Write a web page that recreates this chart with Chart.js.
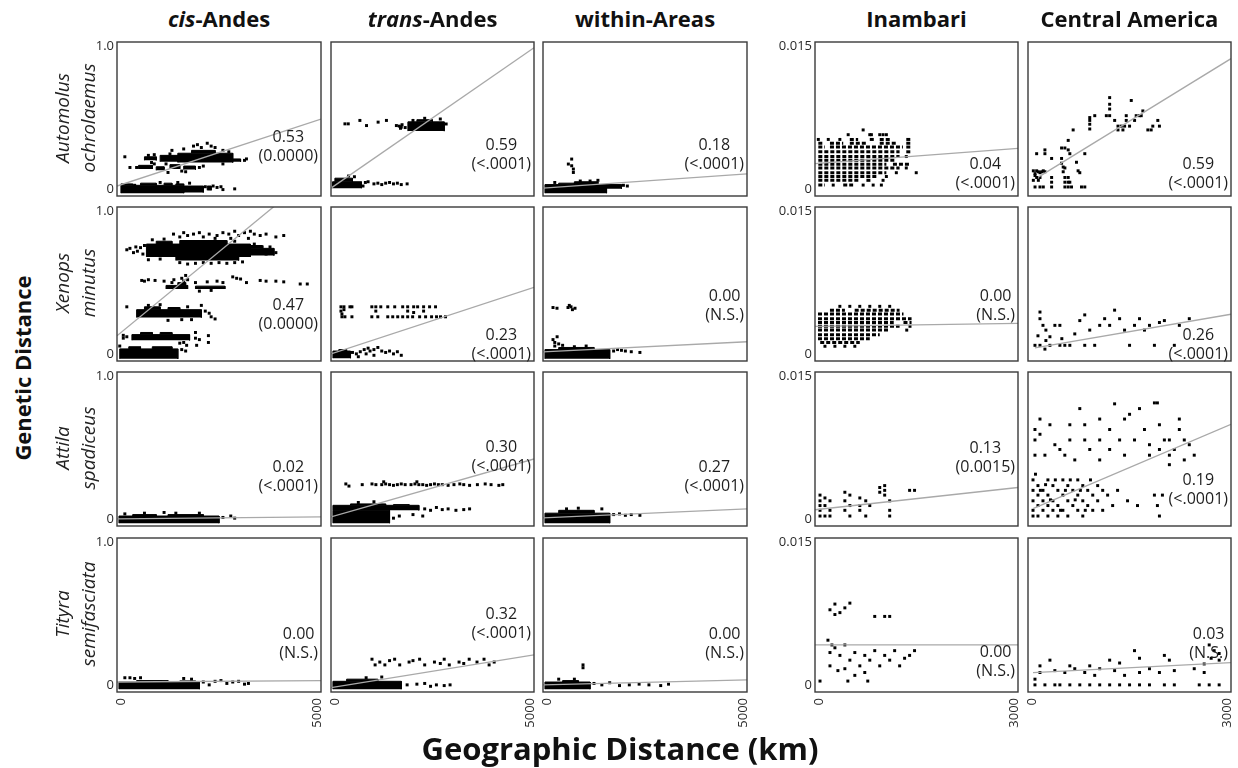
<!DOCTYPE html>
<html>
<head>
<meta charset="utf-8">
<title>Genetic vs geographic distance</title>
<script src="https://cdn.jsdelivr.net/npm/chart.js@4.4.0/dist/chart.umd.min.js"></script>
<style>
  html, body { margin: 0; padding: 0; background: #fff; }
  body { width: 1238px; height: 768px; position: relative; overflow: hidden; font-family: "Open Sans", "Noto Sans", sans-serif; color: #111; }
  canvas.panel { position: absolute; }
  .colTitle { position: absolute; top: 18px; transform: translate(-50%, -50%); font-weight: 700; font-size: 22px; white-space: nowrap; }
  .rot { position: absolute; white-space: nowrap; transform: translate(-50%, -50%) rotate(-90deg); }
  .species { font-style: italic; font-size: 19px; color: #222; }
  .axisTitle { font-weight: 700; font-size: 22px; }
  .xTitle { position: absolute; left: 620px; top: 748px; transform: translate(-50%, -50%); font-weight: 700; font-size: 31px; white-space: nowrap; }
</style>
</head>
<body>
<script>
// ---------------- categories and labels ----------------
const regions = ['cis-Andes', 'trans-Andes', 'within-Areas', 'Inambari', 'Central America'];
const species = [['Automolus', 'ochrolaemus'], ['Xenops', 'minutus'], ['Attila', 'spadiceus'], ['Tityra', 'semifasciata']];
const r2Labels = [
  ['0.53', '0.59', '0.18', '0.04', '0.59'],
  ['0.47', '0.23', '0.00', '0.00', '0.26'],
  ['0.02', '0.30', '0.27', '0.13', '0.19'],
  ['0.00', '0.32', '0.00', '0.00', '0.03']
];
const pLabels = [
  ['(0.0000)', '(<.0001)', '(<.0001)', '(<.0001)', '(<.0001)'],
  ['(0.0000)', '(<.0001)', '(N.S.)', '(N.S.)', '(<.0001)'],
  ['(<.0001)', '(<.0001)', '(<.0001)', '(0.0015)', '(<.0001)'],
  ['(N.S.)', '(<.0001)', '(N.S.)', '(N.S.)', '(N.S.)']
];
const yTicksCoarse = [0, 1.0], yTickLabelsCoarse = ['0', '1.0'];
const yTicksFine = [0, 0.015], yTickLabelsFine = ['0', '0.015'];
const xTicksWide = [0, 5000], xTickLabelsWide = ['0', '5000'];
const xTicksNarrow = [0, 3000], xTickLabelsNarrow = ['0', '3000'];

// Dense clouds of overlapping pairs are given as blocks [x0, x1, y0, y1];
// isolated pairs as points [x, y]; dotted rows as [y, x0, x1];
// fitted lines as [x0, y0, x1, y1].

// ---------------- Automolus ochrolaemus ----------------
const cisAutoBlocks = [
  [0,1600,-0.03,0.025],[0,300,0.025,0.035],[500,900,0.025,0.04],[1100,1300,0.025,0.04],[1400,1600,0.025,0.035],
  [1600,2100,-0.025,0.02],[2200,2300,-0.01,0.02],
  [450,800,0.14,0.165],[900,1100,0.13,0.155],[1250,1500,0.14,0.17],[1600,1900,0.135,0.16],
  [1450,2850,0.185,0.25],[1000,1450,0.19,0.235],[1800,2400,0.25,0.27],[600,900,0.2,0.225],[2850,3050,0.19,0.21]
];
const cisAutoPts = [[2150,0.015],[2250,0.0],[2350,0.02],[2450,0.01],[2550,0.015],[2600,-0.005],[2900,0.0],[1750,0.04],[1450,0.045],
  [700,0.235],[780,0.185],[850,0.24],[1300,0.27],[1600,0.28],[1850,0.3],[2050,0.29],[2200,0.32],[2400,0.29],[2600,0.27],
  [2750,0.26],[3150,0.2],[3200,0.21],[100,0.225],[230,0.15],[2300,0.3],[1950,0.31],[400,0.15],[2000,0.15],[2100,0.16],
  [1200,0.115],[1650,0.12],[850,0.175],[1150,0.175],[1550,0.125],[350,0.025],[1000,0.045],[1250,0.245],[2600,0.175]];
const cisAutoFit = [-100, 0.02, 5100, 0.49];

const transAutoBlocks = [
  [1870,2800,0.405,0.47],[2100,2500,0.47,0.485],[-60,680,0.005,0.05],[0,450,0.05,0.075]
];
const transAutoPts = [[257,0.456],[342,0.456],[640,0.48],[810,0.444],[1107,0.468],[1320,0.48],[1575,0.444],[1650,0.44],[1700,0.433],
  [1720,0.45],[1680,0.425],[2000,0.48],[2300,0.495],[2700,0.49],[1800,0.43],[780,0.045],[850,0.05],[1000,0.035],[1100,0.04],[1200,0.03],
  [1300,0.04],[1400,0.045],[1500,0.035],[1600,0.04],[1700,0.03],[1850,0.035],[500,0.085],[350,0.09],[720,0.02],[2850,0.455]];
const transAutoFit = [-100, 0.005, 5100, 0.99];

const withinAutoBlocks = [
  [-50,1520,-0.03,0.03],[300,700,0.03,0.04],[700,1300,0.03,0.05],[1520,1900,0.0,0.03]
];
const withinAutoPts = [[1950,0.025],[2050,0.02],[1300,0.06],[1100,0.055],[850,0.055],[200,0.045],
  [631,0.209],[546,0.174],[631,0.162],[674,0.139],[674,0.115]];
const withinAutoFit = [-100, 0.005, 5100, 0.105];

const inamAutoRows = [
  [0.0052,475,603],[0.0052,782,858],[0.0052,935,1113],[0.0052,1343,1419],
  [0.0048,-9,68],[0.0048,170,374],[0.0048,475,730],[0.0048,935,1190],[0.0048,1343,1419],
  [0.0044,-9,93],[0.0044,170,1291],[0.0044,1343,1419],
  [0.0039,-9,1240],[0.0039,1343,1419],
  [0.0034,-9,1240],
  [0.0030,-9,1190],
  [0.0026,-9,1037],[0.0026,1138,1393],
  [0.0022,-9,1240],
  [0.0017,-9,1037],
  [0.0013,-9,884],
  [0.0009,-9,628],[0.0009,730,807],
  [0.0004,-9,93],[0.0004,374,526]
];
const inamAutoPts = [[680,0.0062],[450,0.0057],[782,0.0057],[807,0.0057],[935,0.0057],[986,0.0057],[1037,0.0057],[-9,0.0052],
  [144,0.0052],[322,0.0052],[1343,0.0034],[1343,0.0022],[1190,0.0017],[1496,0.0017],[1037,0.0013],[986,0.0009],[220,0.0004],
  [680,0.0004],[834,0.0004],[960,0.0004]];
const inamAutoFit = [-60, 0.00265, 3060, 0.00425];

const camAutoPts = [[1195,0.0096],[1527,0.0093],[1195,0.0089],[1195,0.0084],[1144,0.0077],[1195,0.0077],[966,0.0077],[889,0.0075],
  [889,0.0072],[889,0.0068],[889,0.0063],[634,0.0062],[558,0.0051],[1272,0.0072],[1323,0.0066],[1374,0.0066],[1425,0.0066],
  [1450,0.0077],[1450,0.0072],[1501,0.0066],[1399,0.0062],[1323,0.0062],[1603,0.0077],[1578,0.0072],[1654,0.0077],[1705,0.0082],
  [1680,0.0077],[1782,0.0062],[1833,0.0062],[1858,0.0066],[1935,0.0072],[1960,0.0066],[456,0.0043],[507,0.0043],[558,0.0041],
  [583,0.0037],[200,0.0041],[200,0.0037],[73,0.0037],[303,0.0032],[456,0.0032],[456,0.0027],[481,0.0023],[507,0.0022],[685,0.0028],
  [813,0.0037],[710,0.0019],[736,0.0017],[73,0.0019],[99,0.0018],[124,0.0017],[150,0.0018],[175,0.0019],[200,0.0018],[48,0.0014],
  [73,0.0012],[22,0.0009],[99,0.0009],[48,0.0002],[124,0.0002],[175,0.0002],[303,0.0012],[303,0.0007],[303,0.0002],[507,0.0012],
  [507,0.0007],[558,0.0012],[558,0.0007],[507,0.0002],[558,0.0002],[609,0.0002],[762,0.0002],[813,0.0002],[583,0.0007],[22,0.0019],
  [48,0.0016],[124,0.0012],[481,0.0018]];
const camAutoFit = [99, 0.00123, 3060, 0.0137];

// ---------------- Xenops minutus ----------------
const cisXenBlocks = [
  [650,3300,0.68,0.77],[900,1300,0.77,0.79],[1500,2700,0.77,0.795],[3300,3900,0.69,0.74],[3300,3600,0.74,0.76],[1400,3000,0.655,0.68],
  [1150,1700,0.455,0.48],[1900,2650,0.455,0.475],[1450,1650,0.48,0.5],
  [400,2050,0.255,0.31],[600,1000,0.31,0.33],[1200,1500,0.31,0.325],
  [280,1750,0.095,0.135],[500,800,0.135,0.15],[1000,1300,0.135,0.15],
  [-30,1450,-0.035,0.035],[200,500,0.035,0.05],[800,1300,0.035,0.05]
];
const cisXenPts = [[1340,0.84],[1500,0.82],[1600,0.85],[1700,0.83],[1850,0.84],[2000,0.85],[2100,0.82],[2250,0.84],[2450,0.83],
  [2600,0.85],[2750,0.84],[2900,0.86],[3000,0.83],[3150,0.85],[3300,0.86],[3400,0.84],[3550,0.83],[3700,0.84],[3950,0.82],[4150,0.83],
  [2800,0.81],[3250,0.81],[150,0.73],[230,0.74],[320,0.71],[380,0.75],[420,0.72],[500,0.745],[560,0.70],[600,0.76],[3600,0.75],
  [3800,0.75],[3700,0.7],[3950,0.71],[1500,0.64],[1700,0.63],[1900,0.635],[2100,0.64],[2300,0.635],[2500,0.64],[2700,0.635],
  [2900,0.64],[3100,0.645],[530,0.515],[600,0.51],[700,0.52],[870,0.515],[1100,0.51],[1300,0.50],[1350,0.52],[1550,0.53],[1600,0.51],
  [1700,0.52],[1650,0.55],[1900,0.50],[2200,0.505],[2450,0.51],[2600,0.50],[2850,0.54],[2950,0.53],[3050,0.525],[3200,0.5],
  [3550,0.515],[3700,0.51],[3950,0.51],[4150,0.505],[4570,0.49],[4750,0.49],[2000,0.44],[2300,0.445],[150,0.33],[2150,0.3],
  [2250,0.285],[2300,0.26],[2400,0.245],[1550,0.24],[1800,0.24],[1200,0.235],[700,0.34],[1000,0.345],[60,0.11],[60,0.13],[150,0.12],
  [1900,0.11],[2000,0.1],[2230,0.08],[1675,0.06],[1930,0.06],[2230,0.128],[1500,0.075],[1550,0.03],[1650,0.02],[-30,0.055],
  [800,0.8],[1100,0.805],[2900,0.79],[2400,0.81],[3400,0.77],[700,0.66],[1000,0.665],[2050,0.34],[1700,0.33],[1900,0.15],[1600,0.08]];
const cisXenFit = [-100, 0.127, 5100, 1.305];

const transXenBlocks = [
  [-50,400,-0.03,0.02],[100,300,0.02,0.03]
];
const transXenPts = [[155,0.33],[232,0.33],[385,0.33],[436,0.33],[946,0.33],[1048,0.33],[1175,0.33],[1354,0.33],[1532,0.33],
  [1736,0.33],[1864,0.33],[2017,0.33],[2119,0.33],[2272,0.33],[2425,0.33],[2578,0.33],[180,0.26],[257,0.26],[436,0.26],[946,0.26],
  [1099,0.26],[1354,0.26],[1481,0.26],[1609,0.26],[1736,0.26],[1864,0.26],[1991,0.26],[2170,0.26],[2323,0.26],[2476,0.26],
  [2603,0.26],[2705,0.26],[2833,0.26],[155,0.3],[180,0.28],[232,0.31],[1048,0.3],[1864,0.3],[2017,0.29],[2272,0.3],
  [450,0.01],[550,0.0],[650,0.015],[750,0.03],[850,0.04],[900,0.02],[1000,0.03],[1100,0.045],[1200,0.02],[1300,0.01],[1400,0.02],
  [1500,0.0],[1600,0.015],[1700,-0.01],[1000,-0.01],[800,0.0],[600,-0.02]];
const transXenFit = [-100, 0.0, 5100, 0.466];

const withinXenBlocks = [
  [-50,1600,-0.035,0.03],[300,1200,0.03,0.045]
];
const withinXenPts = [[155,0.325],[257,0.32],[537,0.325],[614,0.33],[716,0.32],[650,0.31],[570,0.34],[155,0.1],[260,0.12],[200,0.08],
  [300,0.07],[1700,0.02],[1800,0.03],[1900,0.025],[2000,0.02],[2150,0.015],[2370,0.01],[1000,0.055],[700,0.05],[400,0.06],[200,0.055]];
const withinXenFit = [-100, 0.014, 5100, 0.085];

const inamXenRows = [
  [0.0046,170,400],[0.0046,550,1240],
  [0.0042,-14,1300],
  [0.0037,-14,1424],
  [0.0033,-14,1150],[0.0033,1300,1424],
  [0.0029,-14,1240],
  [0.0025,-14,1088],
  [0.0020,-14,935],
  [0.0016,-14,782],
  [0.0012,20,628]
];
const inamXenPts = [[322,0.005],[475,0.005],[628,0.005],[782,0.005],[935,0.005],[1088,0.005],[93,0.0008],[246,0.0008],[399,0.0008],
  [552,0.0008],[1400,0.0029],[1350,0.0025]];
const inamXenFit = [-60, 0.0029, 3060, 0.0032];

const camXenPts = [[124,0.0044],[124,0.0037],[215,0.0025],[215,0.0014],[47,0.0009],[124,0.0009],[200,0.0005],[277,0.0018],[353,0.003],
  [430,0.003],[460,0.0016],[506,0.0009],[659,0.0021],[736,0.0035],[812,0.0041],[812,0.0009],[889,0.0025],[965,0.0009],[1042,0.003],
  [1118,0.0037],[1195,0.003],[1271,0.0046],[1348,0.0037],[1424,0.0025],[1501,0.0009],[1577,0.003],[1654,0.0037],[1730,0.0025],
  [1807,0.003],[1883,0.0009],[1960,0.0033],[2036,0.0035],[2189,0.0009],[2266,0.003],[2419,0.0037],[277,0.0009],[430,0.0009],
  [583,0.0009],[170,0.003],[93,0.0019]];
const camXenFit = [47, 0.00064, 3060, 0.00417];

// ---------------- Attila spadiceus ----------------
const cisAttBlocks = [
  [-50,2500,-0.03,0.02],[300,900,0.02,0.03],[1200,2100,0.02,0.03]
];
const cisAttPts = [[2600,0.01],[2800,0.02],[2900,0.005],[1100,0.045],[1400,0.04],[600,0.04],[2000,0.04],[100,0.035]];
const cisAttFit = [-100, 0.0, 5100, 0.014];

const transAttBlocks = [
  [-50,2150,0.06,0.095],[-50,1400,-0.03,0.06],[400,1300,0.095,0.105],[1500,1900,0.095,0.1]
];
const transAttPts = [[280,0.245],[360,0.23],[700,0.24],[950,0.245],[1050,0.24],[1200,0.24],[1300,0.245],[1400,0.24],[1500,0.235],
  [1600,0.24],[1700,0.245],[1800,0.24],[1950,0.24],[2050,0.245],[2150,0.24],[2250,0.24],[2350,0.235],[2450,0.24],[2550,0.245],
  [2650,0.24],[2750,0.24],[2900,0.235],[3050,0.24],[3200,0.245],[3300,0.24],[3450,0.235],[3650,0.24],[3850,0.245],[4000,0.24],
  [4200,0.235],[4300,0.24],[1250,0.26],[2100,0.26],[2300,0.07],[2450,0.06],[2600,0.08],[2750,0.065],[2900,0.07],[3100,0.06],
  [3300,0.065],[3450,0.07],[1500,0.005],[1650,0.02],[2000,0.03],[2250,0.02],[600,0.115],[1000,0.12]];
const transAttFit = [-100, 0.014, 5100, 0.42];

const withinAttBlocks = [
  [-50,1600,-0.03,0.04],[300,1200,0.04,0.06]
];
const withinAttPts = [[1700,0.03],[1850,0.035],[2000,0.025],[2150,0.03],[2370,0.025],[1400,0.07],[800,0.075],[500,0.07]];
const withinAttFit = [-100, 0.007, 5100, 0.07];

const inamAttPts = [[17,0.0025],[17,0.0019],[17,0.0014],[17,0.0009],[17,0.0003],[93,0.0022],[93,0.0014],[93,0.0003],[170,0.0019],
  [170,0.0009],[170,0.0003],[399,0.0028],[399,0.0019],[399,0.0009],[476,0.0025],[476,0.0014],[476,0.0003],[629,0.0022],[629,0.0014],
  [629,0.0009],[720,0.0019],[720,0.0003],[935,0.0033],[935,0.0028],[1011,0.0035],[1011,0.003],[1011,0.0025],[1088,0.0019],
  [1088,0.0009],[1088,0.0003],[1394,0.003],[1470,0.003],[782,0.0014]];
const inamAttFit = [-60, 0.00096, 3060, 0.0033];

const camAttPts = [[47,0.0094],[47,0.0083],[47,0.0067],[124,0.0105],[124,0.0089],[200,0.0067],[277,0.0099],[353,0.0078],[430,0.0073],
  [506,0.0067],[583,0.0099],[583,0.0083],[659,0.0062],[736,0.0116],[812,0.0099],[812,0.0083],[889,0.0073],[1042,0.0105],[1042,0.0083],
  [1042,0.0062],[1195,0.0094],[1195,0.0073],[1271,0.0121],[1348,0.0083],[1424,0.0105],[1424,0.0067],[1501,0.011],[1577,0.0083],
  [1654,0.0116],[1730,0.0094],[1807,0.0078],[1807,0.0067],[1883,0.0122],[1929,0.0122],[1960,0.0099],[1960,0.0073],[2036,0.0083],
  [2113,0.0083],[2113,0.0067],[2189,0.0073],[2266,0.0094],[2342,0.0083],[2419,0.0078],[2495,0.0067],[2342,0.0062],[2113,0.0057],
  [2266,0.0105],
  [17,0.0041],[17,0.003],[17,0.0019],[17,0.0009],[17,0.0003],[93,0.0035],[93,0.0025],[93,0.0014],[93,0.0003],[170,0.003],[170,0.0019],
  [170,0.0009],[246,0.0041],[246,0.0025],[246,0.0014],[246,0.0003],[323,0.0035],[323,0.0019],[323,0.0009],[399,0.003],[399,0.0014],
  [399,0.0003],[476,0.0041],[476,0.0025],[476,0.0009],[552,0.0035],[552,0.0019],[552,0.0003],[629,0.003],[629,0.0014],[705,0.0041],
  [705,0.0025],[705,0.0009],[782,0.0035],[782,0.0019],[782,0.0003],[858,0.003],[858,0.0014],[935,0.0025],[935,0.0009],[1011,0.0035],
  [1011,0.0019],[1088,0.003],[1088,0.0009],[1164,0.0025],[1241,0.0014],[1317,0.003],[1470,0.0019],[1623,0.0014],[1883,0.0025],
  [1929,0.0014],[1960,0.0003],[2006,0.0025],
  [55,0.0047],[130,0.0030],[210,0.0036],[285,0.0020],[360,0.0041],[440,0.0009],[515,0.0030],[590,0.0041],[665,0.0020],[745,0.0030],
  [820,0.0009],[900,0.0041]];
const camAttFit = [17, 0.00107, 3060, 0.00994];

// ---------------- Tityra semifasciata ----------------
const cisTitBlocks = [
  [-50,2000,-0.03,0.02],[400,1200,0.02,0.03],[1500,1900,0.02,0.028]
];
const cisTitPts = [[100,0.05],[230,0.05],[350,0.045],[500,0.05],[2100,0.02],[2250,0.0],[2400,0.025],[2550,0.03],[2700,0.01],
  [2850,0.02],[3000,0.025],[3150,0.005],[3250,0.01],[1600,0.045],[1800,0.04]];
const cisTitFit = [-100, 0.02, 5100, 0.03];

const transTitBlocks = [
  [-50,1700,-0.03,0.025],[300,1100,0.025,0.04]
];
const transTitPts = [[950,0.18],[1030,0.14],[1150,0.16],[1280,0.14],[1530,0.18],[1660,0.14],[1900,0.16],[2170,0.18],[2300,0.14],
  [2550,0.16],[2800,0.18],[2930,0.14],[3180,0.16],[3440,0.18],[3640,0.16],[3820,0.18],[3950,0.14],[4080,0.16],[1400,0.17],[2000,0.17],
  [2700,0.15],[3300,0.15],[1850,0.0],[2100,0.005],[2300,0.01],[2450,-0.01],[2600,0.0],[2800,-0.005],[2950,0.0],[1200,0.055],[800,0.05]];
const transTitFit = [-100, -0.02, 5100, 0.21];

const withinTitBlocks = [
  [-50,1100,-0.03,0.02],[400,800,0.02,0.03]
];
const withinTitPts = [[920,0.14],[920,0.12],[1200,0.01],[1400,0.0],[1600,0.015],[1850,-0.005],[2100,0.0],[2350,0.005],[2600,0.0],
  [2900,-0.005],[3100,0.005],[300,0.04],[700,0.04]];
const withinTitFit = [-100, 0.0, 5100, 0.035];

const inamTitPts = [[170,0.0079],[246,0.0085],[323,0.0076],[399,0.0081],[476,0.0086],[246,0.0074],[858,0.0072],[1011,0.0072],
  [1088,0.0072],[139,0.0047],[200,0.0042],[170,0.0034],[246,0.0039],[323,0.0031],[399,0.0042],[476,0.0026],[552,0.0034],[629,0.002],
  [705,0.0031],[782,0.0026],[858,0.0036],[935,0.002],[1011,0.0031],[1088,0.0026],[1164,0.0036],[1241,0.002],[1317,0.0028],
  [1394,0.0031],[1470,0.0036],[170,0.002],[292,0.0015],[399,0.0017],[552,0.001],[705,0.0013],[17,0.0004],[445,0.0004],[751,0.0004]];
const inamTitFit = [-60, 0.0042, 3060, 0.0042];

const camTitPts = [[2725,0.0042],[2801,0.0036],[2648,0.0022],[2755,0.0028],[2878,0.0026],[2878,0.0033],[1577,0.0036],[1654,0.0028],
  [2036,0.0031],[2113,0.0026],[1195,0.0026],[583,0.002],[277,0.0026],[124,0.002],[124,0.0013],[353,0.0015],[506,0.0013],[659,0.0017],
  [812,0.0013],[965,0.001],[1042,0.0017],[1271,0.0015],[1424,0.001],[1654,0.0013],[1807,0.0017],[1960,0.0013],[2189,0.0015],
  [2495,0.0017],[2648,0.0013],[47,0.0006],[47,0],[200,0],[353,0],[430,0],[583,0],[736,0],[889,0],[1042,0],[1195,0],[1348,0],[1501,0],
  [1654,0],[1807,0],[2036,0],[2189,0],[2572,0],[2725,0],[2878,0],[889,0.002],[1348,0.0023]];
const camTitFit = [17, 0.00128, 3060, 0.00235];

// ---------------- panel table ----------------
const panelData = [
  [ {blocks: cisAutoBlocks, pts: cisAutoPts, fit: cisAutoFit},
    {blocks: transAutoBlocks, pts: transAutoPts, fit: transAutoFit},
    {blocks: withinAutoBlocks, pts: withinAutoPts, fit: withinAutoFit},
    {rows: inamAutoRows, pts: inamAutoPts, fit: inamAutoFit},
    {pts: camAutoPts, fit: camAutoFit} ],
  [ {blocks: cisXenBlocks, pts: cisXenPts, fit: cisXenFit},
    {blocks: transXenBlocks, pts: transXenPts, fit: transXenFit},
    {blocks: withinXenBlocks, pts: withinXenPts, fit: withinXenFit},
    {rows: inamXenRows, pts: inamXenPts, fit: inamXenFit},
    {pts: camXenPts, fit: camXenFit} ],
  [ {blocks: cisAttBlocks, pts: cisAttPts, fit: cisAttFit},
    {blocks: transAttBlocks, pts: transAttPts, fit: transAttFit},
    {blocks: withinAttBlocks, pts: withinAttPts, fit: withinAttFit},
    {pts: inamAttPts, fit: inamAttFit},
    {pts: camAttPts, fit: camAttFit} ],
  [ {blocks: cisTitBlocks, pts: cisTitPts, fit: cisTitFit},
    {blocks: transTitBlocks, pts: transTitPts, fit: transTitFit},
    {blocks: withinTitBlocks, pts: withinTitPts, fit: withinTitFit},
    {pts: inamTitPts, fit: inamTitFit},
    {pts: camTitPts, fit: camTitFit} ]
];

// ---------------- layout ----------------
const COL_LEFT = [117, 331, 543, 815, 1028];
const COL_W = [204, 203, 204, 203, 203];
const ROW_TOP = [42, 207, 372, 538];
const ROW_H = 154;
const PAD = {left: 46, right: 6, top: 8, bottom: 44};
// vertical offset of the statistic text from the top of each panel
const NOTE_Y = [[95,103,103,122,122],[98,128,89,89,128],[95,75,95,76,108],[96,76,96,114,96]];

const FONT = '"Open Sans", "Noto Sans", sans-serif';

function toXY(list) { return list.map(p => ({x: p[0], y: p[1]})); }
function blockOutline(b) { return [[b[0], b[2]], [b[0], b[3]], [b[1], b[3]], [b[1], b[2]]]; }

function panelPlugin(spec) {
  return {
    id: 'panelDecor',
    afterDraw(chart) {
      const {ctx, chartArea: a, scales} = chart;
      ctx.save();
      ctx.strokeStyle = '#3a3a3a';
      ctx.lineWidth = 1.4;
      ctx.strokeRect(a.left, a.top, a.right - a.left, a.bottom - a.top);
      ctx.fillStyle = '#2a2a2a';
      ctx.font = '13px ' + FONT;
      if (spec.yTicks) {
        ctx.textAlign = 'right';
        ctx.textBaseline = 'middle';
        spec.yTicks.forEach((v, i) => ctx.fillText(spec.yLabels[i], a.left - 3, scales.y.getPixelForValue(v)));
      }
      if (spec.xTicks) {
        spec.xTicks.forEach((v, i) => {
          ctx.save();
          ctx.translate(scales.x.getPixelForValue(v), a.bottom + 6);
          ctx.rotate(-Math.PI / 2);
          ctx.textAlign = 'right';
          ctx.textBaseline = 'middle';
          ctx.fillText(spec.xLabels[i], 0, 0);
          ctx.restore();
        });
      }
      ctx.font = '16px ' + FONT;
      ctx.fillStyle = '#1e1e1e';
      ctx.textAlign = 'center';
      ctx.textBaseline = 'middle';
      const wP = ctx.measureText(spec.p).width;
      const cx = a.right - 3 - wP / 2;
      ctx.fillText(spec.r2, cx, a.top + spec.noteY);
      ctx.fillText(spec.p, cx, a.top + spec.noteY + 19);
      ctx.restore();
    }
  };
}

function buildPanel(r, c) {
  const d = panelData[r][c];
  const fine = c >= 3;
  const datasets = [];
  // fitted line first so it is drawn above the marks
  datasets.push({
    type: 'line', data: toXY([[d.fit[0], d.fit[1]], [d.fit[2], d.fit[3]]]),
    borderColor: '#a9a9a9', borderWidth: 1.3, pointRadius: 0, fill: false, tension: 0
  });
  if (d.pts) datasets.push({
    type: 'scatter', data: toXY(d.pts), pointStyle: 'rect', pointRadius: 2.1,
    backgroundColor: '#000', borderWidth: 0
  });
  (d.rows || []).forEach(row => datasets.push({
    type: 'line', data: toXY([[row[1], row[0]], [row[2], row[0]]]),
    borderColor: '#000', borderWidth: 3, borderDash: [4, 2], borderCapStyle: 'butt',
    pointRadius: 0, fill: false, tension: 0
  }));
  (d.blocks || []).forEach(b => datasets.push({
    type: 'line', data: toXY(blockOutline(b)), borderColor: '#000', borderWidth: 1,
    backgroundColor: '#000', fill: 'shape', pointRadius: 0, tension: 0
  }));

  const w = COL_W[c], h = ROW_H;
  const cv = document.createElement('canvas');
  cv.className = 'panel';
  cv.width = w + PAD.left + PAD.right;
  cv.height = h + PAD.top + PAD.bottom;
  cv.style.left = (COL_LEFT[c] - PAD.left) + 'px';
  cv.style.top = (ROW_TOP[r] - PAD.top) + 'px';
  cv.style.width = cv.width + 'px';
  cv.style.height = cv.height + 'px';
  document.body.appendChild(cv);

  const spec = {
    r2: r2Labels[r][c], p: pLabels[r][c], noteY: NOTE_Y[r][c],
    yTicks: (c === 0 || c === 3) ? (fine ? yTicksFine : yTicksCoarse) : null,
    yLabels: fine ? yTickLabelsFine : yTickLabelsCoarse,
    xTicks: r === 3 ? (fine ? xTicksNarrow : xTicksWide) : null,
    xLabels: fine ? xTickLabelsNarrow : xTickLabelsWide
  };
  const yMax = fine ? 0.015 : 1.0;

  new Chart(cv, {
    type: 'scatter',
    data: {datasets},
    options: {
      responsive: false, animation: false, events: [], devicePixelRatio: 1,
      layout: {padding: PAD},
      plugins: {legend: {display: false}, tooltip: {enabled: false}},
      scales: {
        x: {type: 'linear', display: false, min: fine ? -60 : -100, max: fine ? 3060 : 5100},
        y: {type: 'linear', display: false, min: -0.05 * yMax, max: 1.03 * yMax}
      }
    },
    plugins: [panelPlugin(spec)]
  });
}

for (let r = 0; r < 4; r++) for (let c = 0; c < 5; c++) buildPanel(r, c);

// ---------------- titles ----------------
const colCenters = COL_LEFT.map((l, i) => l + COL_W[i] / 2);
regions.forEach((name, i) => {
  const el = document.createElement('div');
  el.className = 'colTitle';
  el.style.left = colCenters[i] + 'px';
  const m = name.match(/^(cis|trans)(-.*)$/);
  if (m) {
    const it = document.createElement('i');
    it.textContent = m[1];
    el.appendChild(it);
    el.appendChild(document.createTextNode(m[2]));
  } else {
    el.textContent = name;
  }
  document.body.appendChild(el);
});

species.forEach((pair, r) => {
  const cy = ROW_TOP[r] + ROW_H / 2 - 1;
  pair.forEach((word, k) => {
    const el = document.createElement('div');
    el.className = 'rot species';
    el.style.left = (k === 0 ? 62 : 88) + 'px';
    el.style.top = cy + 'px';
    el.textContent = word;
    document.body.appendChild(el);
  });
});

const yTitle = document.createElement('div');
yTitle.className = 'rot axisTitle';
yTitle.style.left = '22px';
yTitle.style.top = '368px';
yTitle.textContent = 'Genetic Distance';
document.body.appendChild(yTitle);

const xTitle = document.createElement('div');
xTitle.className = 'xTitle';
xTitle.textContent = 'Geographic Distance (km)';
document.body.appendChild(xTitle);
</script>
</body>
</html>
